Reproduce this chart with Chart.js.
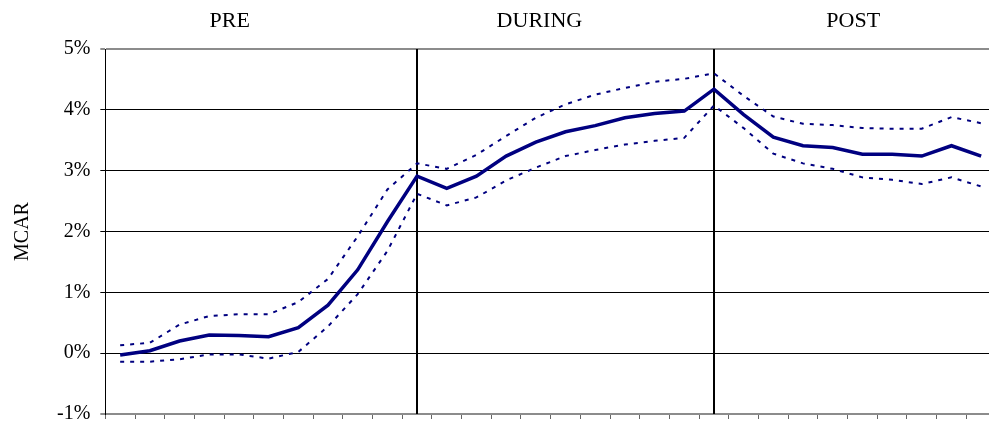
<!DOCTYPE html>
<html>
<head>
<meta charset="utf-8">
<script src="https://cdn.jsdelivr.net/npm/chart.js@4"></script>
<style>
  html, body { margin: 0; padding: 0; background: #fff; overflow: hidden; }
  #wrap { width: 989px; height: 423px; overflow: hidden; }
  canvas { display: block; }
</style>
</head>
<body>
<div id="wrap"><canvas id="grafica" width="1000" height="436"></canvas></div>
<script>
'use strict';

// Datos (MCAR en %)
const periodos = ['1', '2', '3', '4', '5', '6', '7', '8', '9', '10',
                  '11', '12', '13', '14', '15', '16', '17', '18', '19', '20',
                  '21', '22', '23', '24', '25', '26', '27', '28', '29', '30'];

const mcar = [-0.03, 0.04, 0.20, 0.30, 0.29, 0.27, 0.42, 0.79, 1.37, 2.16,
              2.91, 2.71, 2.91, 3.24, 3.47, 3.64, 3.74, 3.87, 3.94, 3.98,
              4.34, 3.92, 3.55, 3.41, 3.38, 3.27, 3.27, 3.24, 3.41, 3.24];

const bandaSup = [0.13, 0.17, 0.47, 0.61, 0.64, 0.64, 0.84, 1.22, 1.92, 2.69,
                  3.12, 3.03, 3.26, 3.57, 3.87, 4.09, 4.25, 4.36, 4.46, 4.51,
                  4.60, 4.23, 3.89, 3.77, 3.75, 3.70, 3.69, 3.69, 3.88, 3.78];

const bandaInf = [-0.14, -0.14, -0.10, -0.02, -0.02, -0.09, 0.02, 0.44, 0.97, 1.68,
                  2.62, 2.43, 2.56, 2.84, 3.05, 3.24, 3.34, 3.43, 3.49, 3.54,
                  4.07, 3.70, 3.28, 3.12, 3.03, 2.89, 2.85, 2.78, 2.89, 2.74];

const tramos = ['PRE', 'DURING', 'POST'];
const cortes = [10, 20]; // índices donde se separan los tramos

const serif = "'Liberation Serif', 'Times New Roman', serif";
const azul = '#000080';

// Líneas verticales y títulos de tramo
const pluginTramos = {
    id: 'tramos',
    beforeDatasetsDraw(chart) {
        const { ctx, chartArea, scales } = chart;
        ctx.save();
        ctx.strokeStyle = '#000';
        ctx.lineWidth = 2;
        cortes.forEach(i => {
            const x = Math.round(scales.x.getPixelForValue(i));
            ctx.beginPath();
            ctx.moveTo(x, chartArea.top);
            ctx.lineTo(x, chartArea.bottom);
            ctx.stroke();
        });
        ctx.restore();
    },
    afterDraw(chart) {
        const { ctx, scales } = chart;
        const centros = [3.69, 14.12, 24.69];
        ctx.save();
        ctx.fillStyle = '#000';
        ctx.font = '22px ' + serif;
        ctx.textAlign = 'center';
        ctx.textBaseline = 'alphabetic';
        tramos.forEach((t, i) => {
            ctx.fillText(t, scales.x.getPixelForValue(centros[i]), 27);
        });
        ctx.restore();
    }
};

new Chart(document.getElementById('grafica').getContext('2d'), {
    type: 'line',
    data: {
        labels: periodos,
        datasets: [{
            label: 'MCAR',
            data: mcar,
            borderColor: azul,
            borderWidth: 3.5,
            pointRadius: 0,
            tension: 0
        }, {
            label: 'Superior',
            data: bandaSup,
            borderColor: azul,
            borderWidth: 2,
            borderDash: [4, 6],
            pointRadius: 0,
            tension: 0
        }, {
            label: 'Inferior',
            data: bandaInf,
            borderColor: azul,
            borderWidth: 2,
            borderDash: [4, 6],
            pointRadius: 0,
            tension: 0
        }]
    },
    plugins: [pluginTramos],
    options: {
        responsive: false,
        animation: false,
        layout: { padding: { left: 0, right: 4, top: 49, bottom: 5 } },
        plugins: {
            legend: { display: false },
            tooltip: { enabled: false }
        },
        scales: {
            x: {
                offset: true,
                grid: {
                    offset: true,
                    drawOnChartArea: false,
                    drawTicks: true,
                    tickLength: 5,
                    color: '#666'
                },
                border: { display: false },
                ticks: { display: false }
            },
            y: {
                min: -1,
                max: 5,
                grid: {
                    tickLength: 5,
                    color: ctx => (ctx.tick.value === 5 || ctx.tick.value === -1) ? '#8c8c8c' : '#000',
                    lineWidth: ctx => (ctx.tick.value === 5 || ctx.tick.value === -1) ? 2 : 1
                },
                border: { display: true, color: '#000', width: 1 },
                ticks: {
                    stepSize: 1,
                    padding: 10,
                    color: '#000',
                    font: { family: serif, size: 20 },
                    callback: v => v + '%'
                },
                title: {
                    display: true,
                    text: 'MCAR',
                    color: '#000',
                    font: { family: serif, size: 20 },
                    padding: { top: 11, bottom: 12 }
                }
            }
        }
    }
});
</script>
</body>
</html>
